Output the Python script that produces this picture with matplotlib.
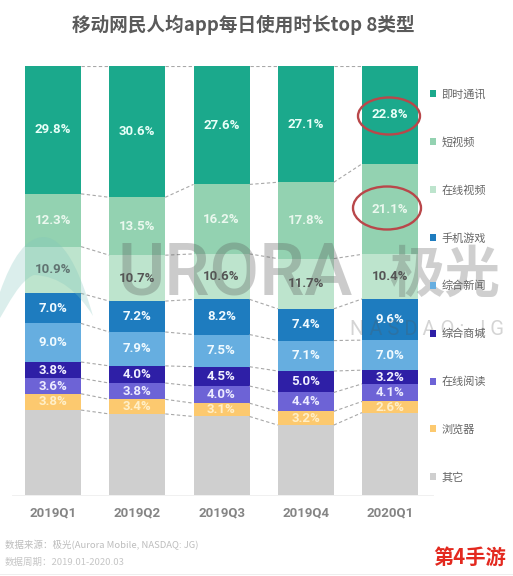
import numpy as np
import matplotlib
matplotlib.use("Agg")
import matplotlib.pyplot as plt
from matplotlib.patches import Ellipse, Patch, PathPatch
from matplotlib.path import Path

CJK = ['Noto Sans CJK SC', 'DejaVu Sans']
LAT = ['Roboto', 'Noto Sans CJK SC', 'DejaVu Sans']
plt.rcParams['font.family'] = CJK

quarters = ['2019Q1', '2019Q2', '2019Q3', '2019Q4', '2020Q1']
categories = ['即时通讯', '短视频', '在线视频', '手机游戏', '综合新闻', '综合商城', '在线阅读', '浏览器', '其它']
im = [29.8, 30.6, 27.6, 27.1, 22.8]
short_video = [12.3, 13.5, 16.2, 17.8, 21.1]
online_video = [10.9, 10.7, 10.6, 11.7, 10.4]
games = [7.0, 7.2, 8.2, 7.4, 9.6]
news = [9.0, 7.9, 7.5, 7.1, 7.0]
shopping = [3.8, 4.0, 4.5, 5.0, 3.2]
reading = [3.6, 3.8, 4.0, 4.4, 4.1]
browser = [3.8, 3.4, 3.1, 3.2, 2.6]
other = [19.8, 18.9, 18.3, 16.4, 19.2]
series = [im, short_video, online_video, games, news, shopping, reading, browser, other]
colors = ['#1BA98C', '#93D2B1', '#BDE4CD', '#1E7CBF', '#66AEE0', '#2E1FA6', '#6D63D6', '#FCC96F', '#CFCFCF']
label_colors = ['#E8FFF8', '#EAF8EE', '#555555', '#F0FAFF', '#F0FAFF', '#F0F0FF', '#ECEBFF', '#FFEFC8', None]

W, H = 513, 576
fig = plt.figure(figsize=(W / 100, H / 100), dpi=100, facecolor='white')

ax = fig.add_axes([12 / W, (H - 495) / H, (433 - 12) / W, (495 - 66) / H], zorder=1)
ax.patch.set_alpha(0)
ax.set_xlim(-0.487, 4.51)
ax.set_ylim(100, 0)
x = np.arange(len(quarters))
bw = 0.665
start = np.zeros(len(quarters))
for vals, col, lc in zip(series, colors, label_colors):
    v = np.array(vals)
    ax.bar(x, v, bottom=start, width=bw, color=col, linewidth=0)
    if lc:
        for xi, s, val in zip(x, start, v):
            ax.text(xi, s + val / 2, f'{val:.1f}%', ha='center', va='center', color=lc,
                    fontsize=9.5, fontweight='bold', family=LAT, zorder=6)
    start = start + v

# dashed connectors between the stacks
cum = np.cumsum(np.array(series), axis=0)
for row in np.vstack([np.zeros(len(quarters)), cum[:-1]]):
    for i in range(len(quarters) - 1):
        ax.plot([x[i] + bw / 2, x[i + 1] - bw / 2], [row[i], row[i + 1]], color='#A8A8A8',
                lw=0.8, ls=(0, (3, 2.2)), zorder=1)

for s in ['top', 'left', 'right']:
    ax.spines[s].set_visible(False)
ax.spines['bottom'].set_color('#EEEEEE')
ax.spines['bottom'].set_linewidth(0.6)
ax.set_yticks([])
ax.set_xticks(x)
ax.set_xticklabels(quarters, family=LAT, fontweight='bold', fontsize=9.5, color='#858585')
ax.tick_params(axis='x', length=0, pad=8)

handles = [Patch(fc=c, ec='none') for c in colors]
leg = fig.legend(handles, categories, loc='upper left', bbox_to_anchor=(429.5 / W, 1 - 89 / H),
                 frameon=False, fontsize=8, labelspacing=3.36, handlelength=0.62, handleheight=0.62,
                 handletextpad=0.45, borderpad=0, borderaxespad=0, labelcolor='#666666')

# overlay in pixel coordinates
top = fig.add_axes([0, 0, 1, 1], zorder=5)
top.set_xlim(0, W); top.set_ylim(H, 0); top.axis('off')
leaf = Path([(0, 292), (12, 258), (26, 237), (44, 237), (68, 238), (84, 285), (93, 316),
             (78, 292), (60, 276), (34, 275), (20, 280), (8, 305), (0, 318), (0, 292)],
            [Path.MOVETO] + [Path.CURVE4] * 12 + [Path.CLOSEPOLY])
top.add_patch(PathPatch(leaf, fc='#7FC4BC', ec='none', alpha=0.28))
top.text(243, 25, '移动网民人均app每日使用时长top 8类型', ha='center', va='center', fontsize=13.4,
         fontweight='bold', color='#5A5A5A')
top.text(117, 276, 'URORA', ha='left', va='center', fontsize=52, family=LAT, fontweight='medium',
         color='#555555', alpha=0.3)
top.text(445, 276, '极光', ha='center', va='center', fontsize=40, fontweight='bold', color='#555555', alpha=0.28)
top.text(350, 329, 'N A S D A Q :  J G', ha='left', va='center', fontsize=14.5, family=LAT, color='#555555', alpha=0.25)
top.add_patch(Ellipse((389, 116), 62, 37, fc='none', ec='#B9474A', lw=1.7))
top.add_patch(Ellipse((387, 208), 68, 43, fc='none', ec='#B9474A', lw=1.7))
top.text(5, 545, '数据来源：极光(Aurora Mobile, NASDAQ: JG)', ha='left', va='center', fontsize=6.8,
         color='#BDBDBD', style='italic')
top.text(5, 562, '数据周期：2019.01-2020.03', ha='left', va='center', fontsize=6.8,
         color='#C6C6C6', style='italic')
top.text(470, 557, '第4手游', ha='center', va='center', fontsize=14.6, fontweight='bold', color='#E3291F')
top.plot([0, W], [574, 574], color='#EEEEEE', lw=0.7)

fig.savefig('out.png', dpi=100)
